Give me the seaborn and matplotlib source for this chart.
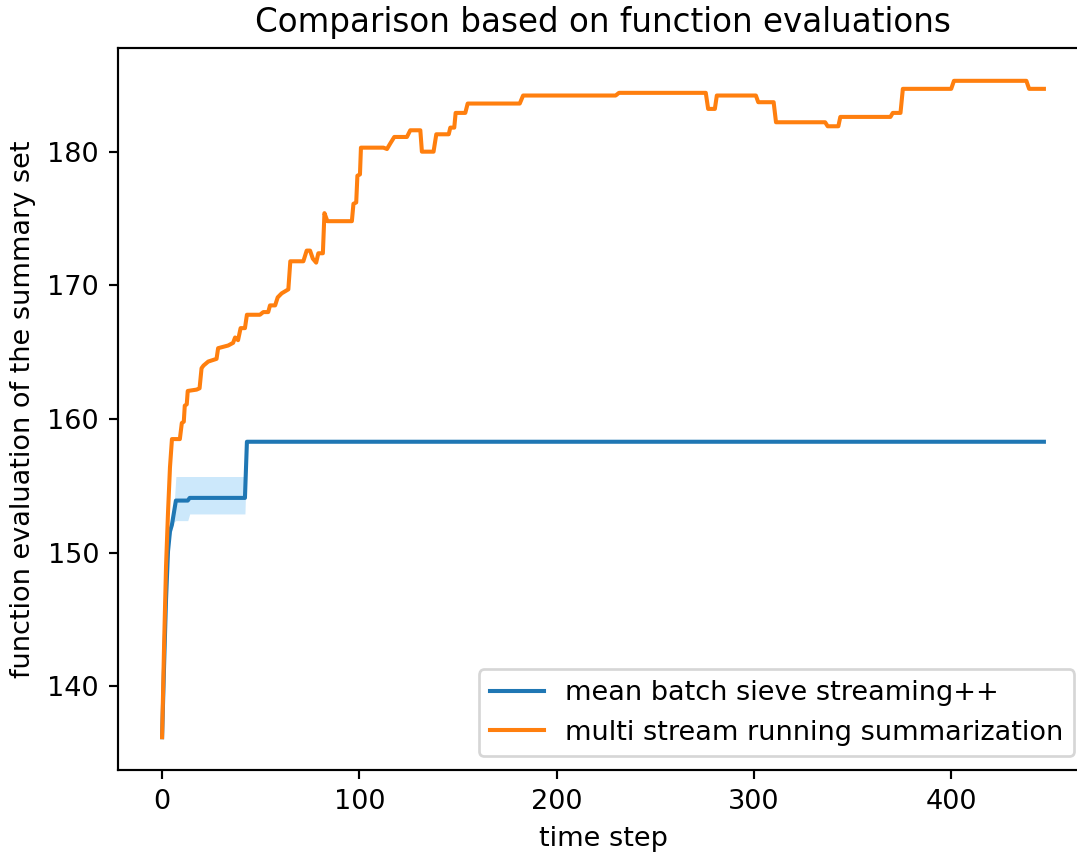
import matplotlib
matplotlib.use("Agg")
import matplotlib.pyplot as plt
import seaborn as sns

# mean batch sieve streaming++ (mean and band)
batch_t = [0, 1, 2, 3, 4, 5, 6, 7, 13, 14, 42, 43, 447]
batch_mean = [136.2, 141.5, 146.5, 150.1, 151.6, 152.1, 153.0, 153.9, 153.9, 154.1, 154.1, 158.3, 158.3]
batch_low = [136.2, 141.3, 146.2, 149.7, 151.1, 151.7, 152.3, 152.4, 152.4, 152.9, 152.9, 158.3, 158.3]
batch_high = [136.2, 141.7, 146.8, 150.5, 152.1, 152.6, 153.4, 155.7, 155.7, 155.7, 155.7, 158.3, 158.3]

# multi stream running summarization
multi_t = [0, 1, 2, 3, 4, 5, 9, 10, 11, 11.5, 12.5, 13, 17.5, 19, 20, 21, 23.4, 27.6, 28.4, 33.5, 36, 37,
           38.5, 39.8, 42, 43, 49.6, 51.3, 53.8, 54.7, 57.3, 58.6, 60.6, 64, 65, 71.6,
           73.3, 75, 76.4, 78.1, 79.2, 81.5, 82.3, 83.8, 96.2, 97, 98.4, 99, 100.3, 100.8,
           112.2, 114, 115.6, 117.7, 124.1, 125.8, 130.9, 131.7, 137.6, 139, 145.3, 146.1,
           148.1, 148.8, 153.7, 154.9, 181.3, 183, 229.9, 231.6, 275.6, 276.8, 280.2,
           281.2, 301, 302.2, 310, 311.2, 336.1, 337.4, 342.8, 343.8, 369.2, 370.4, 374.3,
           375.5, 400, 401.4, 438.1, 439.5, 447]
multi_val = [136.2, 143.0, 149.0, 153.0, 156.4, 158.5, 158.5, 159.7, 159.8, 161.0, 161.1, 162.1, 162.2,
             162.3, 163.8, 164.0, 164.3, 164.5, 165.3, 165.5, 165.7, 166.1, 165.9, 166.8, 166.8,
             167.8, 167.8, 168.0, 168.0, 168.5, 168.5, 169.1, 169.4, 169.7, 171.8, 171.8,
             172.6, 172.6, 172.0, 171.7, 172.4, 172.4, 175.4, 174.8, 174.8, 176.1, 176.2,
             178.2, 178.3, 180.3, 180.3, 180.2, 180.6, 181.1, 181.1, 181.6, 181.6, 180.0,
             180.0, 181.3, 181.3, 181.8, 181.8, 182.9, 182.9, 183.6, 183.6, 184.2, 184.2,
             184.4, 184.4, 183.2, 183.2, 184.2, 184.2, 183.7, 183.7, 182.2, 182.2, 181.9,
             181.9, 182.6, 182.6, 182.9, 182.9, 184.7, 184.7, 185.3, 185.3, 184.7, 184.7]

dpi = 195
fig = plt.figure(figsize=(1077 / dpi, 856 / dpi), dpi=dpi)
ax = fig.add_axes([118 / 1077, 86 / 856, 970 / 1077, 722 / 856])

ax.fill_between(batch_t, batch_low, batch_high, color="#cce8fb", linewidth=0)
sns.lineplot(x=batch_t, y=batch_mean, ax=ax, color="C0", linewidth=1.5,
             estimator=None, sort=False, label="mean batch sieve streaming++")
sns.lineplot(x=multi_t, y=multi_val, ax=ax, color="C1", linewidth=1.5,
             estimator=None, sort=False, label="multi stream running summarization")

ax.set_title("Comparison based on function evaluations")
ax.set_xlabel("time step")
ax.set_ylabel("function evaluation of the summary set")
ax.set_xticks([0, 100, 200, 300, 400])
ax.set_yticks([140, 150, 160, 170, 180])
ax.legend(loc="lower right")

fig.savefig("out.png", dpi=dpi)
